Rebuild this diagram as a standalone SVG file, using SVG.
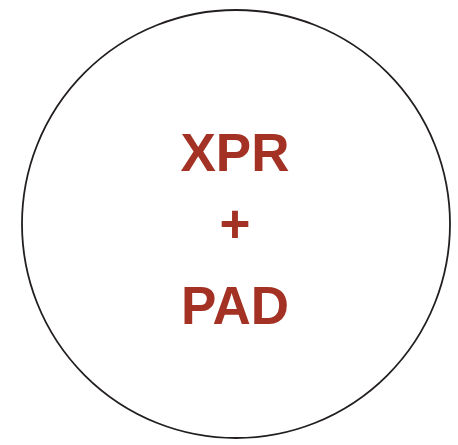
<svg xmlns="http://www.w3.org/2000/svg" width="458" height="445" viewBox="0 0 458 445">
<style>
.t{font-family:"Liberation Sans",Arial,sans-serif;font-weight:bold;font-size:53px;fill:#a33224;text-anchor:middle}
</style>
<rect width="458" height="445" fill="#ffffff"/>
<g id="node-circle">
<circle cx="236" cy="224" r="214" fill="#ffffff" stroke="#231f20" stroke-width="1.8"/>
<text class="t" x="235" y="171">XPR</text>
<text class="t" x="235" y="242">+</text>
<text class="t" x="235" y="324">PAD</text>
</g>
<g id="connectors"></g>
</svg>
